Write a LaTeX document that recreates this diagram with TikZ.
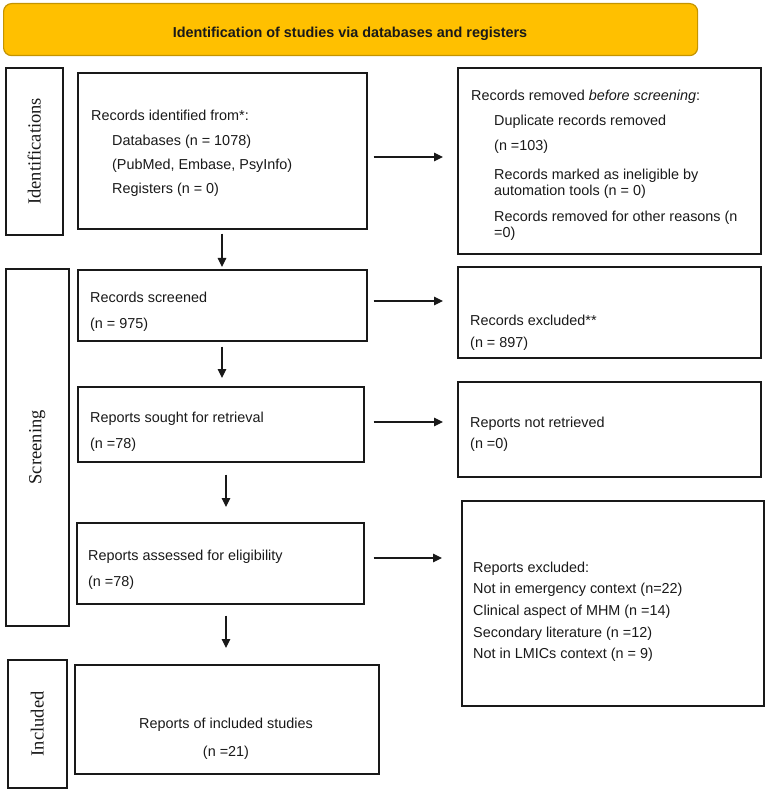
\documentclass[tikz,border=0pt]{standalone}
\usepackage{fontspec}
\setmainfont{Liberation Sans}
\newfontfamily\labserif{Liberation Serif}
\usetikzlibrary{arrows.meta}
\definecolor{bannerfill}{RGB}{255,192,0}
\definecolor{bannerline}{RGB}{196,148,0}
\definecolor{ink}{RGB}{25,25,25}
\tikzset{
  box/.style={draw=ink, line width=1.6pt, inner sep=0pt, anchor=north west},
  txt/.style={inner sep=0pt, anchor=base west, font=\fontsize{14.4}{17}\selectfont, text=ink},
  ctxt/.style={inner sep=0pt, anchor=base, font=\fontsize{14.4}{17}\selectfont, text=ink},
  lab/.style={inner sep=0pt, rotate=90, font=\labserif\fontsize{18.5}{20}\selectfont, text=ink},
  arr/.style={draw=ink, line width=1.1pt, -{Triangle[length=9pt,width=8.5pt]}},
}
\begin{document}
\begin{tikzpicture}[x=1pt,y=-1pt]
\useasboundingbox (0,0) rectangle (767,791);
% banner
\node[draw=bannerline, fill=bannerfill, line width=1.2pt, rounded corners=8pt, anchor=north west,
      minimum width=694pt, minimum height=52pt, inner sep=0pt] (banner) at (3,3) {};
\node[inner sep=0pt, anchor=base, font=\bfseries\fontsize{14.4}{17}\selectfont, text=ink] (bannertxt) at (350,38)
  {Identification of studies via databases and registers};
% stage labels
\node[box, minimum width=57pt, minimum height=167pt] (L1) at (5,67) {};
\node[box, minimum width=63pt, minimum height=357pt] (L2) at (5,268) {};
\node[box, minimum width=59pt, minimum height=128pt] (L3) at (7,659) {};
\node[lab] (L1t) at (L1.center) {Identifications};
\node[lab] (L2t) at (L2.center) {Screening};
\node[lab] (L3t) at (L3.center) {Included};
% main boxes
\node[box, minimum width=289pt, minimum height=156pt] (b1) at (77,72) {};
\node[box, minimum width=289pt, minimum height=71pt] (b2) at (77,269) {};
\node[box, minimum width=286pt, minimum height=75pt] (b3) at (77,386) {};
\node[box, minimum width=287pt, minimum height=81pt] (b4) at (76,522) {};
\node[box, minimum width=304pt, minimum height=109pt] (b5) at (74,664) {};
% right boxes
\node[box, minimum width=303pt, minimum height=186pt] (r1) at (457,67) {};
\node[box, minimum width=303pt, minimum height=91pt] (r2) at (457,266) {};
\node[box, minimum width=303pt, minimum height=95pt] (r3) at (457,381) {};
\node[box, minimum width=302pt, minimum height=205pt] (r4) at (461,500) {};
% texts b1
\node[txt] (t11) at (91,121) {Records identified from*:};
\node[txt] (t12) at (112,146) {Databases (n = 1078)};
\node[txt] (t13) at (112,170) {(PubMed, Embase, PsyInfo)};
\node[txt] (t14) at (112,194) {Registers (n = 0)};
% texts r1
\node[txt] (t21) at (471,101) {Records removed \textit{before screening}:};
\node[txt] (t22) at (494,126) {Duplicate records removed};
\node[txt] (t23) at (494,151) {(n =103)};
\node[txt] (t24) at (494,180) {Records marked as ineligible by};
\node[txt] (t25) at (494,196) {automation tools (n = 0)};
\node[txt] (t26) at (494,222) {Records removed for other reasons (n};
\node[txt] (t27) at (494,238) {=0)};
% b2, r2
\node[txt] (t31) at (90,302) {Records screened};
\node[txt] (t32) at (90,328) {(n = 975)};
\node[txt] (t41) at (470,325) {Records excluded**};
\node[txt] (t42) at (470,347) {(n = 897)};
% b3, r3
\node[txt] (t51) at (90,422) {Reports sought for retrieval};
\node[txt] (t52) at (90,448) {(n =78)};
\node[txt] (t61) at (470,427) {Reports not retrieved};
\node[txt] (t62) at (470,448) {(n =0)};
% b4, r4
\node[txt] (t71) at (88,560) {Reports assessed for eligibility};
\node[txt] (t72) at (88,586) {(n =78)};
\node[txt] (t81) at (473,572) {Reports excluded:};
\node[txt] (t82) at (473,593) {Not in emergency context (n=22)};
\node[txt] (t83) at (473,615) {Clinical aspect of MHM (n =14)};
\node[txt] (t84) at (473,637) {Secondary literature (n =12)};
\node[txt] (t85) at (473,658) {Not in LMICs context (n = 9)};
% b5
\node[ctxt] (t91) at (226,728) {Reports of included studies};
\node[ctxt] (t92) at (226,756) {(n =21)};
% arrow guides
\coordinate (h1) at (0,157);
\coordinate (h2) at (0,301);
\coordinate (h3) at (0,422);
\coordinate (h4) at (0,558);
\coordinate (v1) at (222,0);
\coordinate (v3) at (226,0);
% horizontal arrows
\draw[arr, shorten <=6pt, shorten >=14pt] (b1.east |- h1) -- (r1.west |- h1);
\draw[arr, shorten <=6pt, shorten >=14pt] (b2.east |- h2) -- (r2.west |- h2);
\draw[arr, shorten <=9pt, shorten >=14pt] (b3.east |- h3) -- (r3.west |- h3);
\draw[arr, shorten <=9pt, shorten >=19pt] (b4.east |- h4) -- (r4.west |- h4);
% vertical arrows
\draw[arr, shorten <=4pt, shorten >=2pt] (b1.south -| v1) -- (b2.north -| v1);
\draw[arr, shorten <=5pt, shorten >=8pt] (b2.south -| v1) -- (b3.north -| v1);
\draw[arr, shorten <=12pt, shorten >=15pt] (b3.south -| v3) -- (b4.north -| v3);
\draw[arr, shorten <=11pt, shorten >=16pt] (b4.south -| v3) -- (b5.north -| v3);
\end{tikzpicture}
\end{document}
